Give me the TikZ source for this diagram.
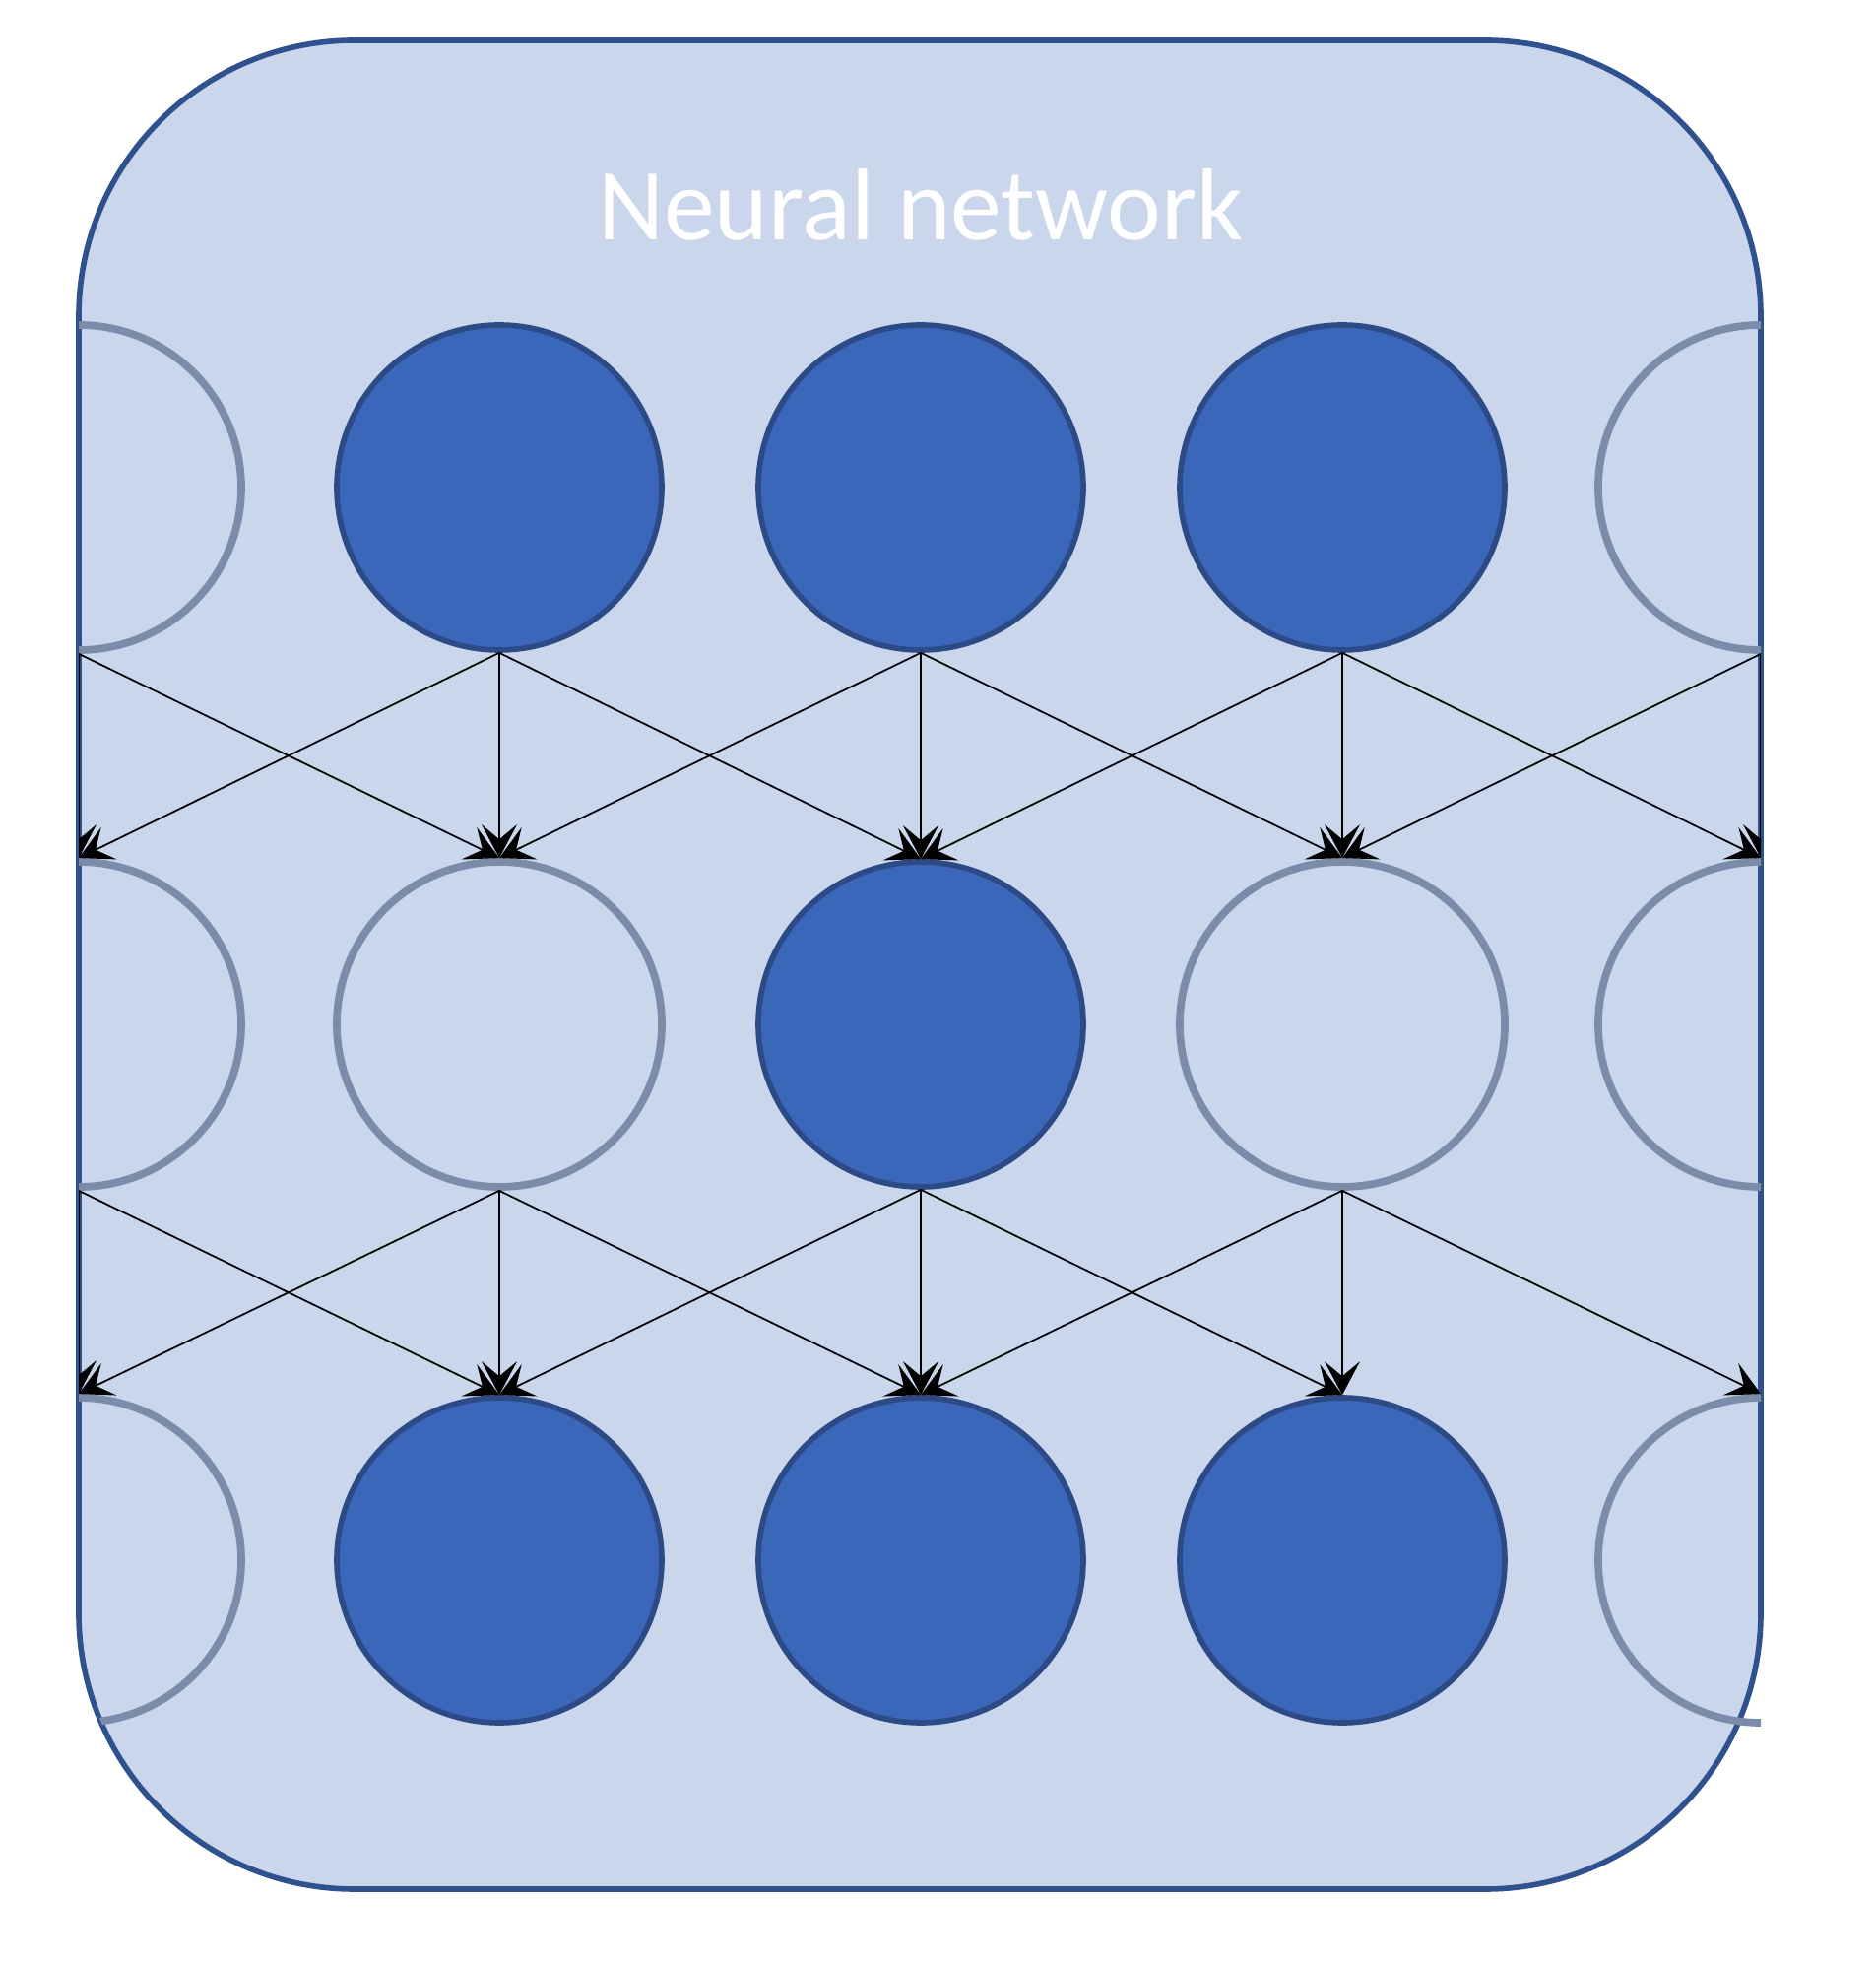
\documentclass[tikz,border=0pt]{standalone}
\usepackage{fontspec}
\newfontfamily\labelfont{Carlito}
\usetikzlibrary{arrows.meta}

\definecolor{boxfill}{RGB}{201,214,236}
\definecolor{boxline}{RGB}{47,82,143}
\definecolor{actfill}{RGB}{59,103,187}
\definecolor{actline}{RGB}{44,74,134}
\definecolor{idleline}{RGB}{122,140,168}

\tikzset{
  act/.style={circle,minimum size=3.3cm,inner sep=0pt,fill=actfill,draw=actline,line width=1.6pt},
  inact/.style={circle,minimum size=3.3cm,inner sep=0pt,draw=idleline,line width=2.2pt},
  arr/.style={-{Stealth[length=0.34cm,width=0.36cm,inset=0.15cm]},line width=0.5pt}
}

\begin{document}
\begin{tikzpicture}
\useasboundingbox (0,0) rectangle (19.04,19.94);

\draw[fill=boxfill,draw=boxline,line width=1.6pt,rounded corners=2.8cm] (0.80,0.76) rectangle (17.88,19.53);
\node[text=white,anchor=base] (title) at (9.35,17.50) {\labelfont\fontsize{29.5}{35}\selectfont Neural network};

\begin{scope}
\clip (0.80,19.94) -- (0.80,3.56) arc[start angle=180,end angle=270,radius=2.8] -- (17.88,0.76) -- (17.88,19.94) -- cycle;

% top layer
\node[inact] (a1) at (0.80,14.99) {};
\node[act]   (a2) at (5.07,14.99) {};
\node[act]   (a3) at (9.35,14.99) {};
\node[act]   (a4) at (13.63,14.99) {};
\node[inact] (a5) at (17.88,14.99) {};

% middle layer
\node[inact] (b1) at (0.80,9.54) {};
\node[inact] (b2) at (5.07,9.54) {};
\node[act]   (b3) at (9.35,9.54) {};
\node[inact] (b4) at (13.63,9.54) {};
\node[inact] (b5) at (17.88,9.54) {};

% bottom layer
\node[inact] (c1) at (0.80,4.10) {};
\node[act]   (c2) at (5.07,4.10) {};
\node[act]   (c3) at (9.35,4.10) {};
\node[act]   (c4) at (13.63,4.10) {};
\node[inact] (c5) at (17.88,4.10) {};

%-------------------------------------
\draw[arr] (a1.south) -- (b1.north);
\draw[arr] (a1.south) -- (b2.north);
\draw[arr] (a2.south) -- (b1.north);
\draw[arr] (a2.south) -- (b2.north);
\draw[arr] (a2.south) -- (b3.north);
\draw[arr] (a3.south) -- (b2.north);
\draw[arr] (a3.south) -- (b3.north);
\draw[arr] (a3.south) -- (b4.north);
\draw[arr] (a4.south) -- (b3.north);
\draw[arr] (a4.south) -- (b4.north);
\draw[arr] (a4.south) -- (b5.north);
\draw[arr] (a5.south) -- (b4.north);
\draw[arr] (a5.south) -- (b5.north);

%-------------------------------------
\draw[arr] (b1.south) -- (c1.north);
\draw[arr] (b1.south) -- (c2.north);
\draw[arr] (b2.south) -- (c1.north);
\draw[arr] (b2.south) -- (c2.north);
\draw[arr] (b2.south) -- (c3.north);
\draw[arr] (b3.south) -- (c2.north);
\draw[arr] (b3.south) -- (c3.north);
\draw[arr] (b3.south) -- (c4.north);
\draw[arr] (b4.south) -- (c3.north);
\draw[arr] (b4.south) -- (c4.north);
\draw[arr] (b4.south) -- (c5.north);
\end{scope}
\end{tikzpicture}
\end{document}
